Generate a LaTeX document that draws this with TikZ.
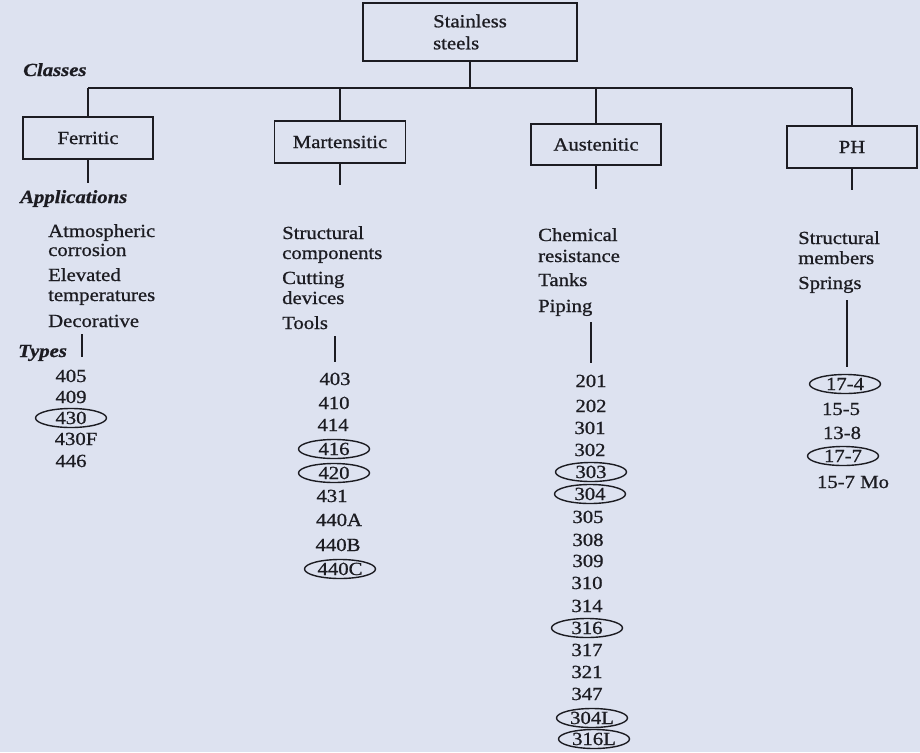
\documentclass[tikz,border=0pt]{standalone}
\usepackage{fontspec}
\setmainfont{Liberation Serif}[FakeStretch=1.12,FakeBold=0.9]
\usetikzlibrary{shapes.geometric}
\definecolor{bg}{HTML}{DDE2F0}
\definecolor{ink}{HTML}{1C1C22}
\begin{document}
\begin{tikzpicture}[x=1pt,y=-1pt,
  font=\fontsize{18.5}{22}\selectfont,
  box/.style={draw=ink, line width=1.8pt, inner sep=0pt, text=ink},
  ln/.style={draw=ink, line width=1.5pt},
  lbl/.style={font=\fontsize{18.5}{22}\selectfont\bfseries\itshape, anchor=base west, inner sep=0pt, text=ink},
  app/.style={anchor=base west, inner sep=0pt, text=ink},
  typ/.style={anchor=base, inner sep=0pt, text=ink, text height=12pt, text depth=0pt},
  circ/.style={typ, ellipse, draw=ink, line width=1.4pt, minimum width=71pt, minimum height=19pt}]
\fill[bg] (0,0) rectangle (920,752);
\useasboundingbox (0,0) rectangle (920,752);

% boxes
\node[box, minimum width=214pt, minimum height=58pt, align=left] (top) at (470,32) {Stainless\\steels};
\node[box, minimum width=130pt, minimum height=42pt] (fer) at (88,138) {Ferritic};
\node[box, minimum width=131pt, minimum height=42pt] (mar) at (340,142) {Martensitic};
\node[box, minimum width=130pt, minimum height=41pt] (aus) at (596,144.5) {Austenitic};
\node[box, minimum width=130pt, minimum height=42pt] (ph) at (852,147) {PH};

\coordinate (bus) at (0,88);
\draw[ln] (top.south) -- (top.south|-bus);
\draw[ln] (fer.north|-bus) -- (ph.north|-bus);
\draw[ln] (fer.north) -- (fer.north|-bus);
\draw[ln] (mar.north) -- (mar.north|-bus);
\draw[ln] (aus.north) -- (aus.north|-bus);
\draw[ln] (ph.north) -- (ph.north|-bus);

\coordinate (ferE) at (88,183);
\coordinate (marE) at (340,185);
\coordinate (ausE) at (596,189);
\coordinate (phE) at (852,190);
\draw[ln] (fer.south) -- (ferE);
\draw[ln] (mar.south) -- (marE);
\draw[ln] (aus.south) -- (ausE);
\draw[ln] (ph.south) -- (phE);

% labels
\node[lbl] (classes) at (23,76) {Classes};
\node[lbl] (applications) at (20,203) {Applications};
\node[lbl] (types) at (18,357) {Types};

% Ferritic applications
\node[app] (fa1) at (48,237) {Atmospheric};
\node[app] (fa2) at (48,256) {corrosion};
\node[app] (fa3) at (48,281) {Elevated};
\node[app] (fa4) at (48,301) {temperatures};
\node[app] (fa5) at (48,327) {Decorative};
\coordinate (fl1) at (82,334);
\coordinate (fl2) at (82,357);
\draw[ln] (fl1) -- (fl2);
\node[typ] (f405) at (71,382) {405};
\node[typ] (f409) at (71,403) {409};
\node[circ] (f430) at (71,424) {430};
\node[typ] (f430F) at (76,445) {430F};
\node[typ] (f446) at (71,467) {446};

% Martensitic applications
\node[app] (ma1) at (282,239) {Structural};
\node[app] (ma2) at (282,259) {components};
\node[app] (ma3) at (282,284) {Cutting};
\node[app] (ma4) at (282,304) {devices};
\node[app] (ma5) at (282,329) {Tools};
\coordinate (ml1) at (335,336);
\coordinate (ml2) at (335,362);
\draw[ln] (ml1) -- (ml2);
\node[typ] (m403) at (335,385) {403};
\node[typ] (m410) at (334,409) {410};
\node[typ] (m414) at (333,431) {414};
\node[circ] (m416) at (334,455) {416};
\node[circ] (m420) at (334,479) {420};
\node[typ] (m431) at (332,502) {431};
\node[typ] (m440A) at (339,526) {440A};
\node[typ] (m440B) at (338,551) {440B};
\node[circ] (m440C) at (340,575) {440C};

% Austenitic applications
\node[app] (aa1) at (538,241) {Chemical};
\node[app] (aa2) at (538,262) {resistance};
\node[app] (aa3) at (538,286) {Tanks};
\node[app] (aa4) at (538,312) {Piping};
\coordinate (al1) at (591,322);
\coordinate (al2) at (591,363);
\draw[ln] (al1) -- (al2);
\node[typ] (a201) at (591,387) {201};
\node[typ] (a202) at (591,412) {202};
\node[typ] (a301) at (590,434) {301};
\node[typ] (a302) at (590,456) {302};
\node[circ] (a303) at (591,478) {303};
\node[circ] (a304) at (590,500) {304};
\node[typ] (a305) at (588,523) {305};
\node[typ] (a308) at (588,546) {308};
\node[typ] (a309) at (588,567) {309};
\node[typ] (a310) at (587,589) {310};
\node[typ] (a314) at (587,612) {314};
\node[circ] (a316) at (587,634) {316};
\node[typ] (a317) at (587,656) {317};
\node[typ] (a321) at (587,678) {321};
\node[typ] (a347) at (587,700) {347};
\node[circ] (a304L) at (592,724) {304L};
\node[circ] (a316L) at (594,745) {316L};

% PH applications
\node[app] (pa1) at (798,244) {Structural};
\node[app] (pa2) at (798,264) {members};
\node[app] (pa3) at (798,289) {Springs};
\coordinate (pl1) at (847,300);
\coordinate (pl2) at (847,367);
\draw[ln] (pl1) -- (pl2);
\node[circ] (p174) at (845,390) {17-4};
\node[typ] (p155) at (841,415) {15-5};
\node[typ] (p138) at (842,439) {13-8};
\node[circ] (p177) at (843,462) {17-7};
\node[typ] (p157) at (853,488) {15-7 Mo};
\end{tikzpicture}
\end{document}
